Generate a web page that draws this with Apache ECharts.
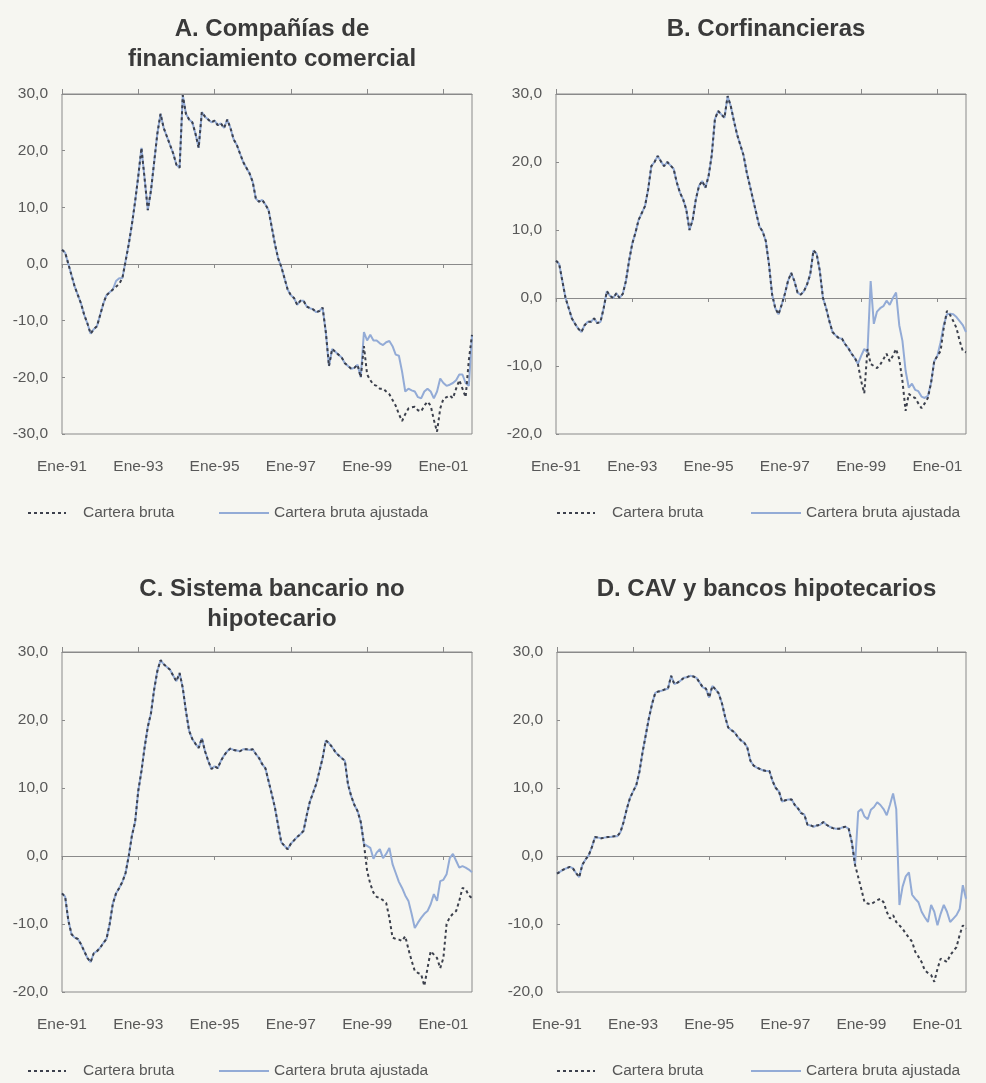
<!DOCTYPE html>
<html>
<head>
<meta charset="utf-8">
<script src="https://cdn.jsdelivr.net/npm/echarts@6/dist/echarts.min.js"></script>
<style>
  html, body { margin: 0; padding: 0; background: #f6f6f1; }
  #chart { width: 986px; height: 1083px; }
</style>
</head>
<body>
<div id="chart"></div>
<script>
// Monthly categories, Ene-91 .. Oct-01
const monthNames = ['Ene','Feb','Mar','Abr','May','Jun','Jul','Ago','Sep','Oct','Nov','Dic'];
const firstYear = 1991, lastYear = 2001, lastMonth = 9;
const categories = [];
for (let y = firstYear; y <= lastYear; y++) {
  for (let m = 0; m < 12; m++) {
    if (y === lastYear && m > lastMonth) break;
    categories.push(monthNames[m] + '-' + String(y).slice(2));
  }
}

// Series names
const nameBruta = 'Cartera bruta';
const nameAjustada = 'Cartera bruta ajustada';

// A. Compañías de financiamiento comercial
const brutaA = [
  2.5, 2.0, 0, -2, -4, -5.5, -7, -9, -10.5, -12.3,
  -11.5, -11, -9, -7, -5.5, -5, -4.5, -4, -3.5, -2.5,
  0.5, 3.5, 7, 11, 15.5, 20.5, 15, 9.5, 13, 18,
  23, 26.5, 24, 22.5, 21, 19.5, 17.5, 17, 29.8, 26.5,
  25.5, 25, 23, 20.5, 26.8, 26, 25.5, 25, 25.3, 24.5,
  24.8, 24, 25.5, 24, 22, 21, 19.5, 18, 17, 16,
  14.5, 11.5, 11, 11.3, 10.5, 9.5, 6.5, 3.5, 1, -0.5,
  -2.5, -4.5, -5.5, -6, -7.2, -6.5, -6.5, -7.5, -7.8, -8,
  -8.5, -8.3, -7.7, -12, -18, -15, -15.5, -16, -16.5, -17.5,
  -18, -18.5, -18.3, -17.8, -20, -14.5, -19.5, -20.5, -21.3, -21.5,
  -22, -22, -22.5, -23, -24, -25, -26.5, -27.7, -26.5, -25.5,
  -25.3, -25.2, -25.8, -26, -25, -24.3, -25, -27.5, -29.6, -25.5,
  -23.8, -23.5, -23.2, -23.7, -22, -20.5, -22, -23.5, -17, -12.5
];
const ajustA = [
  2.5, 2.0, 0, -2, -4, -5.5, -7, -9, -10.5, -12.3,
  -11.5, -11, -9, -7, -5.5, -5, -4.5, -3, -2.5, -2.5,
  0.5, 3.5, 7, 11, 15.5, 20.5, 15, 9.5, 13, 18,
  23, 26.5, 24, 22.5, 21, 19.5, 17.5, 17, 29.8, 26.5,
  25.5, 25, 23, 20.5, 26.8, 26, 25.5, 25, 25.3, 24.5,
  24.8, 24, 25.5, 24, 22, 21, 19.5, 18, 17, 16,
  14.5, 11.5, 11, 11.3, 10.5, 9.5, 6.5, 3.5, 1, -0.5,
  -2.5, -4.5, -5.5, -6, -7.2, -6.5, -6.5, -7.5, -7.8, -8,
  -8.5, -8.3, -7.7, -12, -18, -15, -15.5, -16, -16.5, -17.5,
  -18, -18.5, -18.3, -17.8, -20, -12, -13.5, -12.5, -13.5, -13.5,
  -14, -14.3, -13.8, -13.6, -14.5, -16, -16.2, -19, -22.5, -22,
  -22.3, -22.5, -23.5, -23.7, -22.5, -22, -22.5, -23.7, -22.5, -20.2,
  -21, -21.5, -21.3, -21, -20.5, -19.5, -19.5, -21, -21.5, -12.5
];

// B. Corfinancieras
const brutaB = [
  5.5, 5, 2.5, 0, -1.5, -3, -3.8, -4.5, -5, -4,
  -3.5, -3.5, -3, -3.7, -3.5, -1.5, 1, 0.3, 0, 0.7,
  0, 0.6, 2.5, 5.5, 8, 9.6, 11.5, 12.5, 13.5, 16,
  19.4, 20, 20.9, 20.1, 19.4, 20, 19.5, 19, 17, 15.5,
  14.5, 13, 10, 11.5, 14.5, 16.5, 17.2, 16.2, 17.9, 21,
  26.3, 27.5, 27, 26.5, 29.7, 28.2, 26, 24, 22.5, 21,
  18.5, 16.5, 14.5, 12.5, 10.5, 9.8, 8.4, 5, 0.5, -1.5,
  -2.4, -1, 0.6, 2.5, 3.7, 2.5, 0.8, 0.5, 1, 2,
  3.5, 7, 6.5, 4, 0, -1.5, -3.4, -5, -5.5, -5.9,
  -6, -6.8, -7.4, -8.2, -8.8, -9.7, -12.2, -14, -7.5, -9.7,
  -10, -10.3, -9.8, -9, -8.2, -9.3, -8.5, -7.5, -9, -12.2,
  -16.6, -14.1, -14.5, -14.7, -15.5, -16.2, -15.5, -14.7, -12.5, -9.3,
  -8.5, -7.8, -4.4, -1.9, -2.5, -3.4, -4.4, -6.3, -7.8, -8
];
const ajustB = [
  5.5, 5, 2.5, 0, -1.5, -3, -3.8, -4.5, -5, -4,
  -3.5, -3.5, -3, -3.7, -3.5, -1.5, 1, 0.3, 0, 0.7,
  0, 0.6, 2.5, 5.5, 8, 9.6, 11.5, 12.5, 13.5, 16,
  19.4, 20, 20.9, 20.1, 19.4, 20, 19.5, 19, 17, 15.5,
  14.5, 13, 10, 11.5, 14.5, 16.5, 17.2, 16.2, 17.9, 21,
  26.3, 27.5, 27, 26.5, 29.7, 28.2, 26, 24, 22.5, 21,
  18.5, 16.5, 14.5, 12.5, 10.5, 9.8, 8.4, 5, 0.5, -1.5,
  -2.4, -1, 0.6, 2.5, 3.7, 2.5, 0.8, 0.5, 1, 2,
  3.5, 7, 6.5, 4, 0, -1.5, -3.4, -5, -5.5, -5.9,
  -6, -6.8, -7.4, -8.2, -8.8, -9.7, -8.5, -7.5, -8, 2.5,
  -3.8, -2, -1.5, -1.2, -0.4, -1, 0, 0.8, -4, -6.3,
  -10.7, -13.2, -12.6, -13.5, -13.7, -14.5, -14.7, -14.4, -12.5, -9.3,
  -8.5, -6.5, -4, -2.4, -2.3, -2.4, -2.8, -3.4, -4, -5
];

// C. Sistema bancario no hipotecario
const brutaC = [
  -5.5, -6, -9.5, -11.5, -12, -12.2, -13, -14, -15, -15.6,
  -14.3, -14, -13.5, -12.8, -12.2, -10, -7, -5.5, -4.7, -3.8,
  -2.5, 0, 3, 5, 9.6, 12.5, 16, 19, 21, 24.5,
  27.2, 28.8, 28.2, 27.8, 27.4, 26.5, 25.7, 26.9, 24.7, 21.3,
  18.4, 17.2, 16.5, 15.9, 17.3, 15.4, 14, 12.8, 13.2, 12.9,
  14, 14.8, 15.4, 15.8, 15.6, 15.5, 15.4, 15.7, 15.7, 15.6,
  15.7, 15, 14.4, 13.5, 12.9, 11, 9.1, 7.1, 4.5, 2,
  1.5, 1, 1.8, 2.3, 2.8, 3.2, 3.7, 6, 8, 9.3,
  10.6, 12.5, 14.4, 17, 16.6, 16, 15.3, 14.8, 14.4, 14,
  10.5, 8.8, 7.5, 6.6, 5, 1.8, -2.2, -4.1, -5.4, -6,
  -6.2, -6.5, -6.9, -9.1, -12, -12.2, -12.3, -12.5, -11.8, -13.7,
  -15.4, -16.9, -17.2, -17.4, -19.1, -16.5, -14, -14.5, -15, -16.5,
  -15, -10, -9, -8.5, -8.1, -6.6, -4.7, -4.9, -5.8, -6.2
];
const ajustC = [
  -5.5, -6, -9.5, -11.5, -12, -12.2, -13, -14, -15, -15.6,
  -14.3, -14, -13.5, -12.8, -12.2, -10, -7, -5.5, -4.7, -3.8,
  -2.5, 0, 3, 5, 9.6, 12.5, 16, 19, 21, 24.5,
  27.2, 28.8, 28.2, 27.8, 27.4, 26.5, 25.7, 26.9, 24.7, 21.3,
  18.4, 17.2, 16.5, 15.9, 17.3, 15.4, 14, 12.8, 13.2, 12.9,
  14, 14.8, 15.4, 15.8, 15.6, 15.5, 15.4, 15.7, 15.7, 15.6,
  15.7, 15, 14.4, 13.5, 12.9, 11, 9.1, 7.1, 4.5, 2,
  1.5, 1, 1.8, 2.3, 2.8, 3.2, 3.7, 6, 8, 9.3,
  10.6, 12.5, 14.4, 17, 16.6, 16, 15.3, 14.8, 14.4, 14,
  10.5, 8.8, 7.5, 6.6, 5, 1.8, 1.5, 1.2, -0.4, 0.5,
  1, -0.3, 0.3, 1.2, -1.2, -2.5, -3.8, -4.7, -5.8, -6.6,
  -8.5, -10.6, -9.8, -9.1, -8.5, -8.1, -7.1, -5.6, -6.6, -3.7,
  -3.5, -2.7, -0.3, 0.3, -0.7, -1.7, -1.5, -1.7, -2, -2.4
];

// D. CAV y bancos hipotecarios
const brutaD = [
  -2.6, -2.3, -2, -1.8, -1.6, -1.8, -2.5, -3.1, -1.3, -0.5,
  0.1, 1.3, 2.8, 2.7, 2.6, 2.7, 2.8, 2.8, 2.9, 2.9,
  3.5, 5, 6.9, 8.5, 9.5, 10.4, 12.4, 15.3, 17.8, 20.3,
  22.4, 24, 24.2, 24.3, 24.5, 24.6, 26.5, 25.3, 25.5, 25.8,
  26.2, 26.3, 26.5, 26.4, 26.2, 25.5, 24.8, 24.6, 23.3, 25,
  24.5, 23.9, 22.5, 20.5, 18.9, 18.5, 18.2, 17.5, 17, 16.7,
  16, 14, 13.3, 13, 12.8, 12.6, 12.5, 12.5, 11, 10,
  9.5, 8, 8.2, 8.3, 8.3, 7.5, 7, 6.3, 6.1, 4.6,
  4.5, 4.3, 4.5, 4.6, 5, 4.6, 4.3, 4.1, 4, 4,
  4.2, 4.3, 4, 2, -1.3, -3.1, -4.9, -6.8, -7, -7.1,
  -6.8, -6.5, -6.3, -6.8, -8.2, -9.2, -8.7, -9.7, -10.2, -10.7,
  -11.4, -12, -12.6, -14.1, -14.8, -15.6, -16.8, -17.2, -17.5, -18.5,
  -16.6, -15.1, -15.3, -15.6, -14.6, -14, -13.4, -11.6, -10.2, -10.7
];
const ajustD = [
  -2.6, -2.3, -2, -1.8, -1.6, -1.8, -2.5, -3.1, -1.3, -0.5,
  0.1, 1.3, 2.8, 2.7, 2.6, 2.7, 2.8, 2.8, 2.9, 2.9,
  3.5, 5, 6.9, 8.5, 9.5, 10.4, 12.4, 15.3, 17.8, 20.3,
  22.4, 24, 24.2, 24.3, 24.5, 24.6, 26.5, 25.3, 25.5, 25.8,
  26.2, 26.3, 26.5, 26.4, 26.2, 25.5, 24.8, 24.6, 23.3, 25,
  24.5, 23.9, 22.5, 20.5, 18.9, 18.5, 18.2, 17.5, 17, 16.7,
  16, 14, 13.3, 13, 12.8, 12.6, 12.5, 12.5, 11, 10,
  9.5, 8, 8.2, 8.3, 8.3, 7.5, 7, 6.3, 6.1, 4.6,
  4.5, 4.3, 4.5, 4.6, 5, 4.6, 4.3, 4.1, 4, 4,
  4.2, 4.3, 4, 2, -1.3, 6.5, 6.9, 5.8, 5.4, 6.8,
  7.2, 7.9, 7.5, 6.9, 6, 7.5, 9.2, 6.9, -7.2, -4.5,
  -3, -2.4, -5.7, -6.3, -6.8, -8.2, -9, -9.7, -7.2, -8.2,
  -10.2, -8.5, -7.2, -8.2, -9.7, -9.2, -8.7, -7.8, -4.3, -6.3
];

// Panel titles and value ranges
const titles = [
  'A. Compañías de\nfinanciamiento comercial',
  'B. Corfinancieras',
  'C. Sistema bancario no\nhipotecario',
  'D. CAV y bancos hipotecarios'
];
const yRanges = [[-30, 30], [-20, 30], [-20, 30], [-20, 30]];
const brutaSets = [brutaA, brutaB, brutaC, brutaD];
const ajustSets = [ajustA, ajustB, ajustC, ajustD];

// Layout
const grids = [
  { left: 62, top: 94, width: 410, height: 340 },
  { left: 556, top: 94, width: 410, height: 340 },
  { left: 62, top: 652, width: 410, height: 340 },
  { left: 557, top: 652, width: 409, height: 340 }
];
const titleTops = [9, 9, 569, 569];
const legendTops = [505, 505, 1063, 1063];
const legendLefts = [[27, 218], [556, 750], [27, 218], [556, 750]];

const LABEL_FONT = "'Liberation Sans',Arial,Helvetica,sans-serif";
const TITLE_FONT = "'Liberation Sans',Arial,Helvetica,sans-serif";
const LABEL_SIZE = 15.5;
const AXIS_COLOR = '#8a8a8a';
const TEXT_COLOR = '#585858';
const BLUE = '#93abd6';
const DARK = '#3c404c';

const option = {
  backgroundColor: '#f6f6f1',
  animation: false,
  title: [], grid: [], xAxis: [], yAxis: [], series: [], legend: []
};

grids.forEach((g, i) => {
  option.grid.push(Object.assign({
    show: true, borderColor: AXIS_COLOR, borderWidth: 1, backgroundColor: 'transparent', containLabel: false
  }, g));

  option.title.push({
    text: titles[i],
    left: g.left + g.width / 2,
    top: titleTops[i],
    textAlign: 'center',
    textStyle: { fontFamily: TITLE_FONT, fontSize: 24, fontWeight: 'bold', color: '#3a3a3a', lineHeight: 30 }
  });

  // Bottom axis: month labels only
  option.xAxis.push({
    gridIndex: i, type: 'category', data: categories, boundaryGap: false, position: 'bottom',
    axisLine: { show: false, onZero: false }, axisTick: { show: false }, splitLine: { show: false },
    axisLabel: { interval: 23, margin: 25, color: TEXT_COLOR, fontFamily: LABEL_FONT, fontSize: LABEL_SIZE }
  });
  // Zero line with ticks below it
  option.xAxis.push({
    gridIndex: i, type: 'category', data: categories, boundaryGap: false, position: 'bottom',
    axisLine: { show: true, onZero: true, lineStyle: { color: AXIS_COLOR, width: 1 } },
    axisTick: { show: true, interval: 23, length: 4, lineStyle: { color: AXIS_COLOR } },
    axisLabel: { show: false }, splitLine: { show: false }
  });
  // Zero line with ticks above it
  option.xAxis.push({
    gridIndex: i, type: 'category', data: categories, boundaryGap: false, position: 'top',
    axisLine: { show: true, onZero: true, lineStyle: { color: AXIS_COLOR, width: 1 } },
    axisTick: { show: true, interval: 23, length: 5, lineStyle: { color: AXIS_COLOR } },
    axisLabel: { show: false }, splitLine: { show: false }
  });

  option.yAxis.push({
    gridIndex: i, type: 'value', min: yRanges[i][0], max: yRanges[i][1], interval: 10,
    axisLine: { show: false }, splitLine: { show: false },
    axisTick: { show: true, inside: true, length: 3, lineStyle: { color: AXIS_COLOR } },
    axisLabel: {
      margin: 14, color: TEXT_COLOR, fontFamily: LABEL_FONT, fontSize: LABEL_SIZE,
      formatter: v => v.toFixed(1).replace('.', ',')
    }
  });

  option.series.push({
    name: nameAjustada, type: 'line', xAxisIndex: i * 3, yAxisIndex: i,
    data: ajustSets[i], symbol: 'none', z: 2,
    lineStyle: { color: BLUE, width: 2 }, itemStyle: { color: BLUE }
  });
  option.series.push({
    name: nameBruta, type: 'line', xAxisIndex: i * 3, yAxisIndex: i,
    data: brutaSets[i], symbol: 'none', z: 3,
    lineStyle: { color: DARK, width: 2, type: [3, 3] }, itemStyle: { color: DARK }
  });

  const legendText = { fontFamily: LABEL_FONT, fontSize: LABEL_SIZE, color: TEXT_COLOR };
  option.legend.push({
    data: [nameBruta], left: legendLefts[i][0], top: legendTops[i], padding: 0,
    itemWidth: 38, itemHeight: 14, selectedMode: false,
    itemStyle: { opacity: 0 },
    textStyle: Object.assign({ padding: [0, 0, 0, 12] }, legendText)
  });
  option.legend.push({
    data: [nameAjustada], left: legendLefts[i][1], top: legendTops[i], padding: 0,
    itemWidth: 50, itemHeight: 14, selectedMode: false,
    itemStyle: { opacity: 0 },
    textStyle: legendText
  });
});

const chart = echarts.init(document.getElementById('chart'), null, { renderer: 'canvas' });
chart.setOption(option);
</script>
</body>
</html>
